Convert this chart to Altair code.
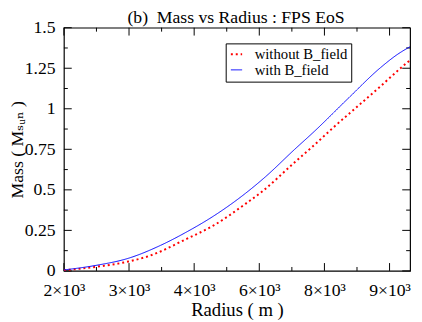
import altair as alt
import pandas as pd

# ---- data ----
chart_title = ["(b)\u00a0\u00a0Mass vs Radius : FPS EoS"]
series_names = ["without B_field", "with B_field"]
radius_without = [2000, 2687, 3387, 3808, 4649, 5210, 5910, 6261, 6961, 7339, 7774, 8453, 8810, 9315, 9441]
mass_without = [0.004, 0.025, 0.058, 0.090, 0.199, 0.279, 0.415, 0.490, 0.670, 0.765, 0.880, 1.050, 1.140, 1.270, 1.300]
radius_with = [2000, 2687, 3387, 4081, 4649, 5210, 5910, 6330, 6961, 7381, 8096, 8811, 9168, 9441]
mass_with = [0.006, 0.034, 0.078, 0.158, 0.242, 0.337, 0.480, 0.580, 0.750, 0.860, 1.060, 1.255, 1.335, 1.383]

x_major = [2000, 3400, 4800, 6200, 7600, 9000]
x_labels = ["2×10³", "3×10³", "4×10³", "6×10³", "8×10³", "9×10³"]
x_minor = [2700, 4100, 5500, 6900, 8300]
y_major = [0, 0.25, 0.5, 0.75, 1.0, 1.25, 1.5]
y_minor = [0.125, 0.375, 0.625, 0.875, 1.125, 1.375]

X_DOMAIN = [2000, 9441]
Y_DOMAIN = [0, 1.5]
W, H = 353, 248
FONT = "Times New Roman, Liberation Serif, DejaVu Serif, serif"

df = pd.concat([
    pd.DataFrame({"radius": radius_without, "mass": mass_without, "series": series_names[0], "order": range(len(radius_without))}),
    pd.DataFrame({"radius": radius_with, "mass": mass_with, "series": series_names[1], "order": range(len(radius_with))}),
])

xscale = alt.Scale(domain=X_DOMAIN, nice=False, zero=False)
yscale = alt.Scale(domain=Y_DOMAIN, nice=False, zero=False)

label_expr = "[" + ",".join(f"'{l}'" for l in x_labels) + "][indexof([" + ",".join(str(v) for v in x_major) + "], datum.value)]"

x_axis = alt.Axis(values=x_major, labelExpr=label_expr, title="Radius ( m )", ticks=False, domain=False,
                  grid=False, labelFont=FONT, labelFontSize=18, labelColor="black", labelPadding=25,
                  labelBaseline="alphabetic",
                  titleFont=FONT, titleFontSize=19, titleFontWeight="normal", titleColor="black",
                  titleBaseline="alphabetic", titleY=45.5, titleX=W / 2,
                  labelFlush=False)
y_axis = alt.Axis(values=y_major, labelExpr="toString(datum.value)", title="Mass ( Mₛᵤₙ )", ticks=False, domain=False,
                  grid=False, labelFont=FONT, labelFontSize=18, labelColor="black", labelPadding=9,
                  titleFont=FONT, titleFontSize=18, titleFontWeight="normal", titleColor="black",
                  titleBaseline="alphabetic", titleAngle=270, titleX=-42, titleY=H / 2,
                  labelFlush=False)

lines = alt.Chart(df).mark_line(interpolate="monotone", clip=True).encode(
    x=alt.X("radius:Q", scale=xscale, axis=x_axis),
    y=alt.Y("mass:Q", scale=yscale, axis=y_axis),
    order="order:Q",
    color=alt.Color("series:N", scale=alt.Scale(domain=series_names, range=["#ff0000", "#0000ff"]),
                    legend=alt.Legend(title=None)),
    strokeDash=alt.StrokeDash("series:N", scale=alt.Scale(domain=series_names, range=[[2, 3], [1, 0]]),
                              legend=alt.Legend(title=None)),
    strokeWidth=alt.StrokeWidth("series:N", scale=alt.Scale(domain=series_names, range=[2, 1]), legend=None),
)


def xticks(values, length):
    d = pd.DataFrame({"v": values})
    bottom = alt.Chart(d).mark_rule(color="black", strokeWidth=1).encode(
        x=alt.X("v:Q", scale=xscale), y=alt.value(H), y2=alt.value(H - length))
    top = alt.Chart(d).mark_rule(color="black", strokeWidth=1).encode(
        x=alt.X("v:Q", scale=xscale), y=alt.value(0), y2=alt.value(length))
    return [bottom, top]


def yticks(values, length):
    d = pd.DataFrame({"v": values})
    left = alt.Chart(d).mark_rule(color="black", strokeWidth=1).encode(
        y=alt.Y("v:Q", scale=yscale), x=alt.value(0), x2=alt.value(length))
    right = alt.Chart(d).mark_rule(color="black", strokeWidth=1).encode(
        y=alt.Y("v:Q", scale=yscale), x=alt.value(W), x2=alt.value(W - length))
    return [left, right]


ticks = xticks(x_major, 8) + xticks(x_minor, 4) + yticks(y_major, 8) + yticks(y_minor, 4)

title = alt.Chart(pd.DataFrame({"t": chart_title})).mark_text(
    font=FONT, fontSize=18, color="black", align="center", baseline="alphabetic"
).encode(text="t:N", x=alt.value(W / 2 - 1), y=alt.value(-4.5))

chart = alt.layer(*ticks, lines, title).properties(
    width=W, height=H,
    autosize=alt.AutoSizeParams(type="none"),
    padding={"left": 57, "top": 17, "right": 4, "bottom": 49},
).configure_view(stroke="black", strokeWidth=1.2).configure_legend(
    orient="none", legendX=165, legendY=16, strokeColor="black", fillColor="white",
    padding=3.5, rowPadding=0, labelFont=FONT, labelFontSize=15, labelColor="black",
    symbolType="stroke", symbolSize=132, symbolStrokeWidth=1.5, labelOffset=11, cornerRadius=0,
)

chart.save("out.html", embed_options={"renderer": "svg", "actions": False})
